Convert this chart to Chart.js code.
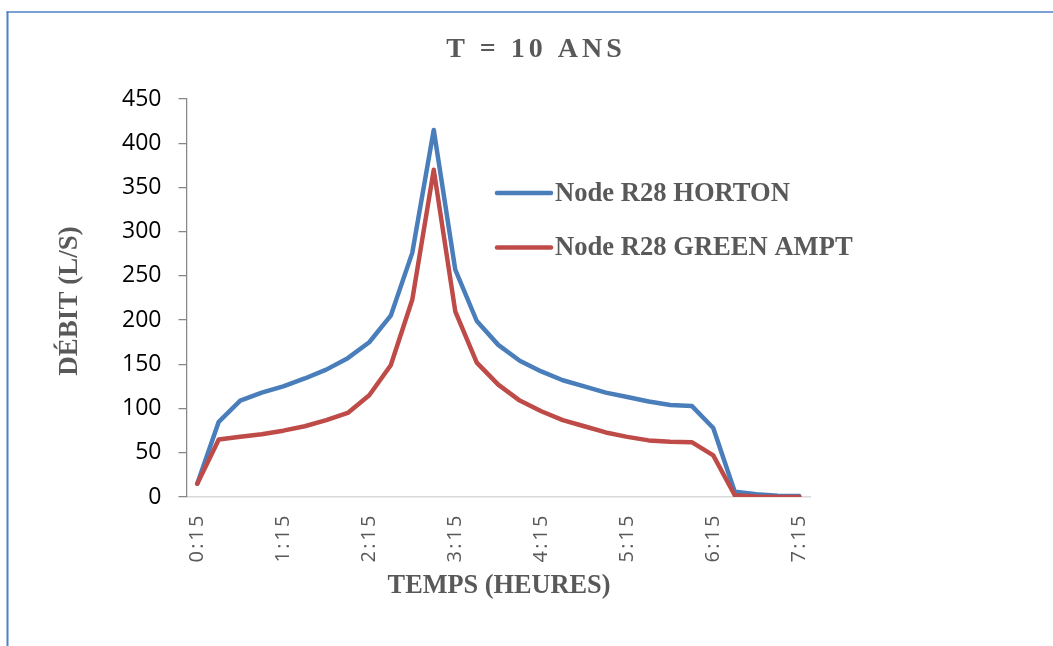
<!DOCTYPE html>
<html>
<head>
<meta charset="utf-8">
<script src="https://cdn.jsdelivr.net/npm/chart.js@4.4.1/dist/chart.umd.min.js"></script>
<style>
  html, body { margin: 0; padding: 0; background: #ffffff; }
  #wrap { position: relative; width: 1053px; height: 646px; }
</style>
</head>
<body>
<div id="wrap"><canvas id="c" width="1053" height="646"></canvas></div>
<script>
// Time steps (15 min) from 0:15 to 7:15
const timeLabels = ['0:15','0:30','0:45','1:00','1:15','1:30','1:45','2:00','2:15','2:30','2:45','3:00','3:15','3:30','3:45','4:00','4:15','4:30','4:45','5:00','5:15','5:30','5:45','6:00','6:15','6:30','6:45','7:00','7:15'];

// Flow at node R28 (L/s)
const hortonFlow    = [15, 85, 109, 118, 125, 134, 144, 157, 175, 205, 276, 415, 257, 199, 172, 154, 142, 132, 125, 118, 113, 108, 104, 103, 78, 6, 3, 1.5, 1];
const greenAmptFlow = [15, 65, 68, 71, 75, 80, 87, 95, 115, 149, 223, 370, 210, 152, 127, 109, 97, 87, 80, 73, 68, 64, 62.5, 62, 47, 2, 0.5, 0, 0];

const seriesNames = ['Node R28 HORTON', 'Node R28 GREEN AMPT'];
const chartTitle = 'T = 10 ANS';
const yAxisTitle = 'DÉBIT (L/S)';
const xAxisTitle = 'TEMPS (HEURES)';

const BLUE = '#4a7ebb';
const RED = '#be4b48';
const TEXT_GREY = '#595959';
const SERIF = '"Liberation Serif", "Times New Roman", serif';

function spacedText(ctx, text, cx, cy, spacing) {
  ctx.letterSpacing = spacing + 'px';
  const w = ctx.measureText(text).width - spacing;
  ctx.textAlign = 'left';
  ctx.fillText(text, cx - w / 2, cy);
  ctx.letterSpacing = '0px';
}

// Frame, titles and in-plot legend
const decorations = {
  id: 'decorations',
  beforeDraw(chart) {
    const ctx = chart.ctx;
    ctx.save();
    ctx.fillStyle = '#ffffff';
    ctx.fillRect(0, 0, chart.width, chart.height);
    ctx.strokeStyle = '#4f81c4';
    ctx.lineWidth = 2;
    ctx.beginPath();
    ctx.moveTo(7.5, chart.height);
    ctx.lineTo(7.5, 11.5);
    ctx.stroke();
    ctx.lineWidth = 1.5;
    ctx.beginPath();
    ctx.moveTo(6.5, 12);
    ctx.lineTo(chart.width, 12);
    ctx.stroke();
    ctx.restore();

    // letter spacing for the time labels
    const xs = chart.scales.x;
    if (xs && !xs._spacedLabels) {
      const orig = xs.drawLabels;
      xs.drawLabels = function (area) {
        this.ctx.save();
        this.ctx.letterSpacing = '2.5px';
        orig.call(this, area);
        this.ctx.restore();
      };
      xs._spacedLabels = true;
    }
  },
  afterDraw(chart) {
    const ctx = chart.ctx;
    ctx.save();
    ctx.fillStyle = TEXT_GREY;
    ctx.textBaseline = 'middle';

    ctx.font = 'bold 28px ' + SERIF;
    spacedText(ctx, chartTitle, 534, 50, 4);

    ctx.font = 'bold 26.3px ' + SERIF;
    spacedText(ctx, xAxisTitle, 499, 586, 0);

    ctx.save();
    ctx.translate(70.5, 301);
    ctx.rotate(-Math.PI / 2);
    ctx.font = 'bold 27px ' + SERIF;
    spacedText(ctx, yAxisTitle, 0, 0, 0);
    ctx.restore();

    // legend
    const entries = [chart.data.datasets[1], chart.data.datasets[0]];
    const legendX = 497, legendY = 193, rowGap = 54.5;
    entries.forEach((ds, i) => {
      const y = legendY + i * rowGap;
      ctx.strokeStyle = ds.borderColor;
      ctx.lineWidth = 4.5;
      ctx.lineCap = 'round';
      ctx.beginPath();
      ctx.moveTo(legendX, y);
      ctx.lineTo(legendX + 54, y);
      ctx.stroke();
      ctx.font = 'bold 26.6px ' + SERIF;
      ctx.textAlign = 'left';
      ctx.fillStyle = TEXT_GREY;
      ctx.fillText(ds.label, legendX + 58, y + 1);
    });
    ctx.restore();
  }
};

new Chart(document.getElementById('c'), {
  type: 'line',
  data: {
    labels: timeLabels,
    datasets: [
      {
        label: seriesNames[1],
        data: greenAmptFlow,
        borderColor: RED,
        backgroundColor: RED,
        borderWidth: 4.5,
        pointRadius: 0,
        tension: 0,
        borderCapStyle: 'round',
        borderJoinStyle: 'round',
        order: 0
      },
      {
        label: seriesNames[0],
        data: hortonFlow,
        borderColor: BLUE,
        backgroundColor: BLUE,
        borderWidth: 4.5,
        pointRadius: 0,
        tension: 0,
        borderCapStyle: 'round',
        borderJoinStyle: 'round',
        order: 1
      }
    ]
  },
  options: {
    responsive: false,
    animation: false,
    devicePixelRatio: 1,
    layout: { padding: { top: 99, right: 243, bottom: 0, left: 0 } },
    plugins: {
      legend: { display: false },
      title: { display: false },
      tooltip: { enabled: false }
    },
    scales: {
      x: {
        type: 'category',
        offset: true,
        afterFit(scale) { scale.height = 149; },
        grid: { display: false },
        border: { display: true, color: '#d9d9d9', width: 1.5 },
        ticks: {
          autoSkip: false,
          minRotation: 90,
          maxRotation: 90,
          padding: 8,
          color: TEXT_GREY,
          font: { family: '"Open Sans", sans-serif', size: 20 },
          callback(value, index) {
            return index % 4 === 0 ? this.getLabelForValue(value) : '';
          }
        }
      },
      y: {
        min: 0,
        max: 450,
        afterFit(scale) { scale.width = 186.5; },
        grid: { drawOnChartArea: false, drawTicks: true, tickLength: 8, color: '#868686', lineWidth: 1.25 },
        border: { display: true, color: '#868686', width: 1.25 },
        ticks: {
          stepSize: 50,
          padding: 17,
          color: '#000000',
          font: { family: '"Open Sans", sans-serif', size: 23 }
        }
      }
    }
  },
  plugins: [decorations]
});
</script>
</body>
</html>
